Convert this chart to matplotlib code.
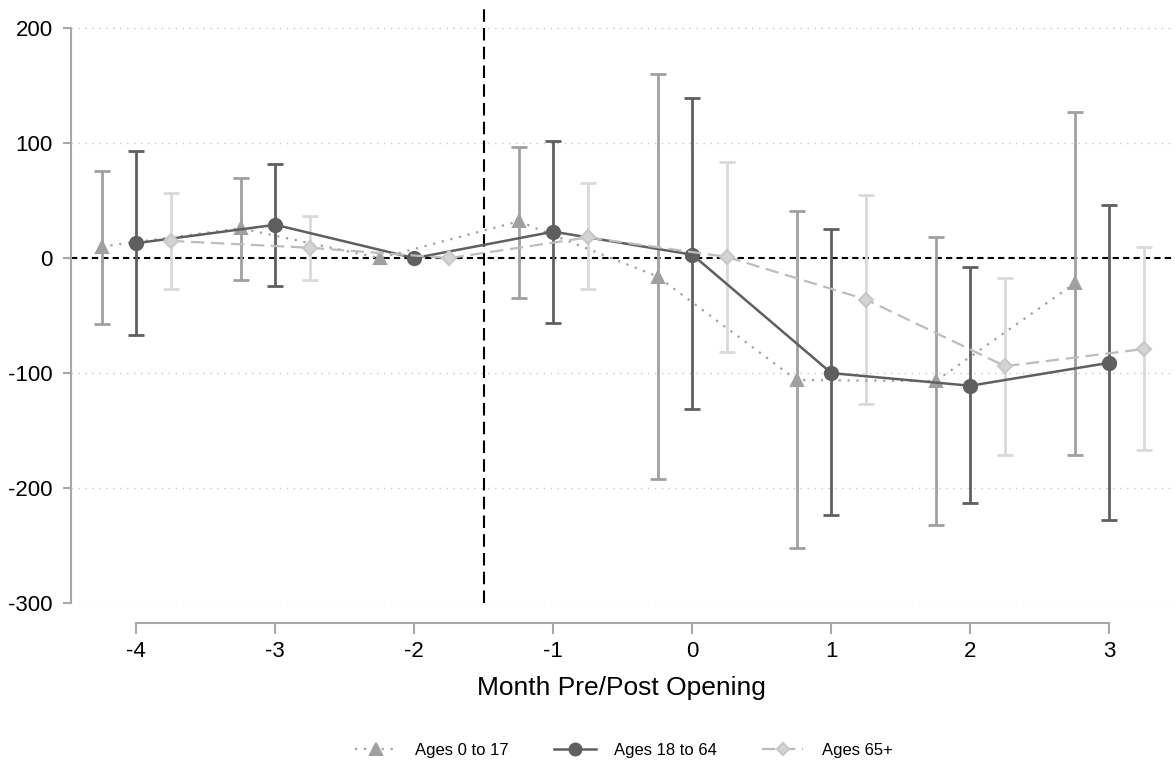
import numpy as np
import matplotlib
matplotlib.use("Agg")
import matplotlib.pyplot as plt

plt.rcParams['font.family'] = ['Liberation Sans', 'DejaVu Sans']

# event-time months
months = [-4, -3, -2, -1, 0, 1, 2, 3]

# Ages 0 to 17
kids_est = [10, 26, 0, 32, -16, -106, -107, -22]
kids_hi = [76, 70, 0, 97, 160, 41, 18, 127]
kids_lo = [-57, -19, 0, -35, -192, -252, -232, -171]

# Ages 18 to 64
adult_est = [13, 29, 0, 23, 3, -100, -111, -91]
adult_hi = [93, 82, 0, 102, 139, 25, -8, 46]
adult_lo = [-67, -24, 0, -56, -131, -223, -213, -228]

# Ages 65+
old_est = [15, 9, 0, 18, 1, -36, -94, -79]
old_hi = [57, 37, 0, 65, 84, 55, -17, 10]
old_lo = [-27, -19, 0, -27, -82, -127, -171, -167]

fig = plt.figure(figsize=(11.75, 7.68), dpi=100)
ax = fig.add_axes([0.0604, 0.2148, 0.937, 0.7747])

m = np.array(months, dtype=float)
series = [
    ("Ages 0 to 17", -0.25, kids_est, kids_lo, kids_hi, '#a0a0a0', '#a0a0a0', '^', (0, (1, 3)), 9),
    ("Ages 18 to 64", 0.0, adult_est, adult_lo, adult_hi, '#5f5f5f', '#5f5f5f', 'o', '-', 9.5),
    ("Ages 65+", 0.25, old_est, old_lo, old_hi, '#bdbdbd', '#d9d9d9', 'D', (0, (6, 3)), 7),
]

# grid
for v in [200, 100, -100, -200, -300]:
    ax.axhline(v, color='#c8c8c8', lw=1, ls=(0, (1, 4)), zorder=0)

handles = []
for name, off, est, lo, hi, col, cicol, mk, ls, ms in series:
    x = m + off
    est = np.array(est, float)
    lo = np.array(lo, float)
    hi = np.array(hi, float)
    has_ci = hi != lo
    ax.errorbar(x[has_ci], est[has_ci], yerr=[est[has_ci] - lo[has_ci], hi[has_ci] - est[has_ci]],
                fmt='none', ecolor=cicol, elinewidth=2, capsize=6, capthick=2, zorder=2)
    h, = ax.plot(x, est, color=col, ls=ls, lw=1.6 if ls != '-' else 1.8, marker=mk, ms=ms,
                 markerfacecolor=col, markeredgecolor=col if mk != 'D' else '#c8c8c8',
                 markeredgewidth=1.5, label=name, zorder=3)
    if mk == 'D':
        h.set_markerfacecolor('#d4d4d4')
    handles.append(h)

ax.axhline(0, color='black', lw=1.5, ls=(0, (3, 2)), zorder=1)
ax.axvline(-1.5, color='black', lw=1.5, ls=(0, (6, 3)), zorder=1)

ax.set_xlim(-4.47, 3.45)
ax.set_ylim(-300, 217.5)

for s in ['top', 'right']:
    ax.spines[s].set_visible(False)
ax.spines['left'].set_bounds(-300, 200)
ax.spines['bottom'].set_bounds(-4, 3)
ax.spines['bottom'].set_position(('outward', 14.4))
for s in ['left', 'bottom']:
    ax.spines[s].set_color('#a8a8a8')
    ax.spines[s].set_linewidth(1.5)

ax.set_yticks([-300, -200, -100, 0, 100, 200])
ax.set_yticklabels(['-300', '-200', '-100', '0', '100', '200'])
ax.set_xticks(months)
ax.set_xticklabels([str(v) for v in months])
ax.tick_params(axis='both', colors='#a8a8a8', labelcolor='black', labelsize=16, width=1.5)
ax.tick_params(axis='y', length=6, pad=7)
ax.tick_params(axis='x', length=8, pad=5)

ax.set_xlabel("Month Pre/Post Opening", fontsize=19, labelpad=10)

fig.legend(handles=handles, loc='center', bbox_to_anchor=(0.531, 0.023), ncol=3, frameon=False,
           fontsize=12, handlelength=2.5, handletextpad=1.1, columnspacing=2.7, markerscale=0.9)

fig.savefig("out.png", dpi=100)
